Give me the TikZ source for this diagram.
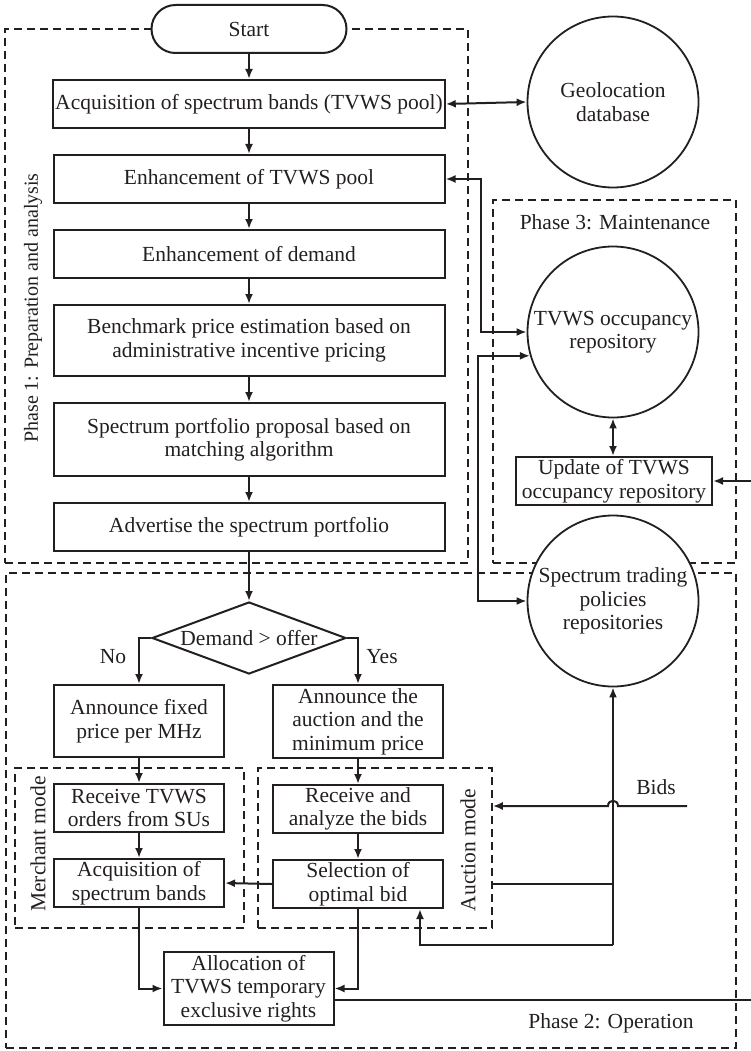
\documentclass[tikz,border=0pt]{standalone}
\usepackage{fontspec}
\setmainfont{Liberation Serif}
\usepackage{xcolor}
\definecolor{cInk}{HTML}{231F20}
\usetikzlibrary{positioning,arrows.meta,shapes.geometric,calc}
\tikzset{
  node-box/.style={draw=cInk,line width=2pt,minimum height=48pt,align=center,inner sep=2pt},
  node-wide/.style={node-box,minimum width=391pt},
  node-narrow/.style={node-box,minimum width=170pt},
  node-term/.style={draw=cInk,line width=2pt,rounded corners=24pt,fill=white,
    minimum width=195pt,minimum height=48pt},
  node-decide/.style={draw=cInk,line width=2pt,diamond,aspect=2.7,inner sep=0pt,inner xsep=-12pt,
    minimum width=194pt,minimum height=72pt},
  node-store/.style={draw=cInk,line width=1.8pt,circle,fill=white,minimum size=171pt,
    align=center,inner sep=0pt},
  phase-frame/.style={draw=cInk,line width=1.6pt,dash pattern=on 8pt off 5pt},
  arrow/.style={-{Latex[length=10pt,width=8pt]},line width=2pt,draw=cInk},
  arrow-both/.style={{Latex[length=10pt,width=8pt]}-{Latex[length=10pt,width=8pt]},line width=2pt,draw=cInk},
  wire/.style={line width=2pt,draw=cInk},
}

\begin{document}
\begin{tikzpicture}[x=1pt,y=-1pt,node distance=25pt and 25pt,
  every node/.append style={align=center,text=cInk,font=\fontsize{21.5pt}{23.5pt}\selectfont}]
  \useasboundingbox (0,0) rectangle (751,1051);
  % dashed phase frames go first, the start cap and the stores are filled over them
  \node[phase-frame,minimum width=463pt,minimum height=534pt] (phaseOne)   at (236.5,296) {};
  \node[phase-frame,minimum width=243pt,minimum height=363pt] (phaseThree) at (614.5,381.5) {};
  \node[phase-frame,minimum width=730pt,minimum height=475pt] (phaseTwo)   at (371,810.5) {};
  \node[phase-frame,minimum width=229pt,minimum height=160pt] (merchantMode) at (129.5,848) {};
  \node[phase-frame,minimum width=234pt,minimum height=160pt] (auctionMode)  at (375,848) {};
  \node[rotate=90,font=\fontsize{20pt}{22pt}\selectfont] (phaseOneLbl) at (33,308) {Phase 1: Preparation and analysis};
  \node            (phaseThreeLbl) at (615,222)  {Phase 3: Maintenance};
  \node            (phaseTwoLbl)   at (611,1023) {Phase 2: Operation};
  \node[rotate=90] (merchantLbl)   at (38,844)   {Merchant mode};
  \node[rotate=90] (auctionLbl)    at (468,850)  {Auction mode};

  \node[node-term] (start) at (249,29) {Start};
  \node[node-wide,below=of start]     (acqPool)   {Acquisition of spectrum bands (TVWS pool)};
  \node[node-wide,below=of acqPool]   (enhPool)   {Enhancement of TVWS pool};
  \node[node-wide,below=of enhPool]   (enhDemand) {Enhancement of demand};
  \node[node-wide,minimum height=71pt,below=of enhDemand] (bench) {Benchmark price estimation based on\\administrative incentive pricing};
  \node[node-wide,minimum height=73pt,below=of bench]     (portfolio) {Spectrum portfolio proposal based on\\matching algorithm};
  \node[node-wide,below=of portfolio] (advert)    {Advertise the spectrum portfolio};
  \node[node-decide,below=49pt of advert] (decide) {Demand > offer};

  \node[node-narrow,minimum height=72pt] (fixedPrice) at (139,721)   {Announce fixed\\price per MHz};
  \node[node-narrow,minimum height=73pt] (auction)    at (358,721.5) {Announce the\\auction and the\\minimum price};
  \node[node-narrow,below=of fixedPrice] (recvOrders) {Receive TVWS\\orders from SUs};
  \node[node-narrow,below=of recvOrders] (acqBands)   {Acquisition of\\spectrum bands};
  \node[node-narrow,below=of auction]    (recvBids)   {Receive and\\analyze the bids};
  \node[node-narrow,below=of recvBids]   (select)     {Selection of\\optimal bid};
  \node[node-narrow,minimum height=73pt] (alloc) at (248.5,988.5) {Allocation of\\TVWS temporary\\exclusive rights};
  \node (noLbl)  at (113,657) {No};
  \node (yesLbl) at (382,657) {Yes};

  \node[node-store] (geo)       at (613,102) {Geolocation\\database};
  \node[node-store] (occupancy) at (613,332) {TVWS occupancy\\repository};
  \node[node-store] (policies)  at (613,601) {Spectrum trading\\policies\\repositories};
  \node[node-box,minimum width=196pt,inner sep=1pt] (update) at (614,481) {Update of TVWS\\occupancy repository};

  \coordinate (feedIn)  at (751,481);
  \coordinate (feedOut) at (751,1000);
  \coordinate (bidsIn)  at (687,806);
  \coordinate (trunk)   at (613,945);
  \coordinate (selIn)   at ($(select.south east)+(-24,0)$);
  \node (bidsLbl) at (656,787) {Bids};

  \draw[arrow] (start) -- (acqPool);
  \draw[arrow] (acqPool) -- (enhPool);
  \draw[arrow] (enhPool) -- (enhDemand);
  \draw[arrow] (enhDemand) -- (bench);
  \draw[arrow] (bench) -- (portfolio);
  \draw[arrow] (portfolio) -- (advert);
  \draw[arrow] (advert) -- (decide);
  \draw[arrow] (decide.west) -| (fixedPrice.north);
  \draw[arrow] (decide.east) -| (auction.north);
  \draw[arrow] (fixedPrice) -- (recvOrders);
  \draw[arrow] (recvOrders) -- (acqBands);
  \draw[arrow] (auction) -- (recvBids);
  \draw[arrow] (recvBids) -- (select);
  \draw[arrow] (select.west) -- (acqBands.east);
  \draw[arrow] (acqBands.south) |- (alloc.west);
  \draw[arrow] (select.south) |- (alloc.east);

  \draw[arrow-both] (acqPool.east) -- (geo.west);
  \draw[arrow-both] (enhPool.east) -- ++(35,0) |- (occupancy.west);
  \draw[arrow-both] (occupancy.196) -| ($(policies.west)+(-49,0)$) -- (policies.west);
  \draw[arrow-both] (occupancy.south) -- (occupancy.south |- update.north);
  \draw[arrow] (feedIn) -- (update.east);
  \draw[wire] (alloc.east |- feedOut) -- (feedOut);

  % auction results feed the trading policies and loop back to the bid selection
  \draw[wire] (auctionMode.east |- select.east) -- (select.east -| trunk);
  \draw[arrow] (trunk) -- (policies.south);
  \draw[arrow] (trunk) -| (selIn);
  \draw[arrow] (bidsIn) -- (618,806) .. controls (618,799) and (608,799) .. (608,806)
    -- (auctionMode.east |- bidsIn);
\end{tikzpicture}
\end{document}
